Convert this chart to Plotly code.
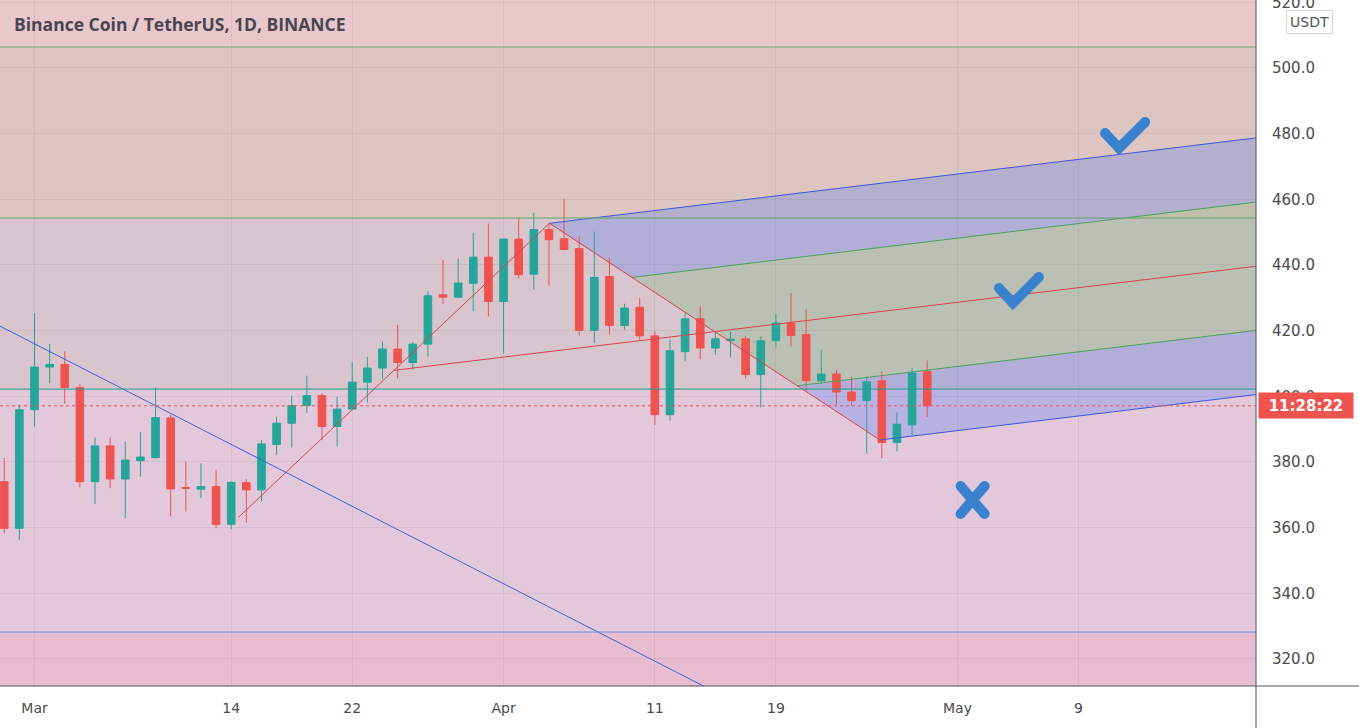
import numpy as np
import pandas as pd
import plotly.graph_objects as go

# ---------------- data ----------------
dates = pd.date_range("2021-02-27", "2021-04-29", freq="D")
opens = [374.0, 359.8, 395.9, 408.9, 409.7, 402.7, 374.0, 384.9, 374.8, 380.4,
         381.3, 393.4, 372.2, 371.7, 372.5, 361.0, 373.7, 371.5, 385.3, 391.8,
         397.2, 400.2, 390.8, 396.1, 404.3, 408.6, 414.4, 410.3, 415.9, 430.9,
         430.2, 434.4, 442.4, 428.9, 447.9, 437.2, 450.8, 448.0, 445.0, 420.1,
         436.5, 421.6, 427.1, 418.4, 394.4, 413.6, 423.6, 414.7, 417.0, 417.5,
         406.6, 417.0, 422.3, 418.8, 404.7, 406.8, 401.3, 398.7, 404.7, 385.9,
         391.3, 407.6]
highs = [381.2, 397.4, 425.4, 416.0, 413.7, 403.7, 387.4, 387.4, 386.2, 389.1,
         402.7, 394.4, 380.1, 379.6, 377.6, 374.0, 374.8, 386.7, 393.8, 400.2,
         406.3, 401.0, 399.9, 410.3, 412.0, 416.7, 421.8, 416.5, 432.0, 441.6,
         441.9, 449.8, 452.6, 448.0, 454.3, 455.9, 452.8, 460.1, 448.7, 450.2,
         442.1, 428.2, 429.9, 419.8, 417.2, 425.4, 427.4, 419.8, 419.8, 418.4,
         418.2, 425.1, 431.5, 426.4, 414.2, 408.1, 405.9, 406.0, 407.6, 395.1,
         408.6, 410.9]
lows = [358.3, 356.2, 390.8, 404.0, 397.7, 372.3, 367.2, 372.0, 362.9, 375.5,
        381.0, 363.4, 364.9, 369.0, 359.8, 359.5, 361.5, 367.9, 382.2, 384.4,
        394.9, 386.7, 384.7, 396.0, 398.1, 405.2, 405.5, 408.1, 412.1, 428.2,
        430.0, 425.9, 424.3, 413.0, 436.0, 432.5, 433.7, 444.5, 418.5, 416.2,
        418.8, 420.3, 417.2, 391.3, 392.6, 410.6, 411.3, 412.7, 411.8, 405.5,
        396.6, 414.9, 415.2, 401.5, 403.8, 397.2, 397.2, 382.5, 381.2, 383.2,
        388.3, 393.7]
closes = [359.8, 395.9, 408.9, 409.7, 402.7, 374.0, 384.9, 374.8, 380.6, 381.5,
          393.5, 371.8, 372.0, 372.5, 361.0, 373.8, 371.5, 385.5, 391.8, 397.2,
          400.2, 390.8, 396.1, 404.3, 408.6, 414.4, 410.3, 415.9, 430.6, 430.2,
          434.5, 442.4, 428.9, 447.9, 437.0, 450.8, 447.7, 444.7, 420.1, 436.2,
          421.6, 426.9, 418.4, 394.4, 413.9, 423.6, 414.7, 417.5, 417.4, 406.6,
          416.9, 422.3, 418.5, 404.8, 406.8, 401.3, 398.7, 404.4, 385.9, 391.5,
          407.1, 397.1]
tick_dates = ["2021-03-01", "2021-03-14", "2021-03-22", "2021-04-01",
              "2021-04-11", "2021-04-19", "2021-05-01", "2021-05-09"]
tick_text = ["Mar", "14", "22", "Apr", "11", "19", "May", "9"]
price_ticks = [320, 340, 360, 380, 400, 420, 440, 460, 480, 500, 520]

# horizontal drawn levels and background zones
levels = [506.4, 454.3, 402.2, 328.2]
level_colors = ["#72ad72", "#5fa665", "#1f9e8c", "#6f8fe6"]
zone_colors = ["#e8c8ca", "#ddc5c2", "#d8c5cd", "#e3c8db", "#e8bdd0"]

# modified Schiff pitchfork anchors (A, B, C)
fork_dates = ["2021-03-14 11:15", "2021-04-04 00:45", "2021-04-25 21:00"]
fork_prices = [363.1, 452.7, 386.7]

# descending trend line anchors
trend_dates = ["2021-03-01", "2021-04-15"]
trend_prices = [416.0, 309.9]

# icons (check marks, cross)
check_dates = ["2021-05-11 16:20", "2021-05-04 16:00"]
check_prices = [475.6, 428.4]
cross_dates = ["2021-05-02 00:00"]
cross_prices = [368.4]

title_text = "Binance Coin / TetherUS, 1D, BINANCE"
countdown = "11:28:22"

# ---------------- helpers ----------------
t0 = pd.Timestamp("2021-03-01")


def to_day(s):
    return (pd.Timestamp(s) - t0) / pd.Timedelta(days=1)


def to_ts(d):
    return t0 + pd.to_timedelta(d, unit="D")


def path_date(d):
    return to_ts(d).strftime("%Y-%m-%d_%H:%M:%S")


x_start = to_ts(-2.28)
x_end = to_ts(80.73)

n = min(len(dates), len(opens), len(highs), len(lows), len(closes))
dates = dates[:n]

fig = go.Figure()
shapes = []

# background zones
bounds = [540] + levels + [290]
for i, col in enumerate(zone_colors):
    shapes.append(dict(type="rect", xref="paper", yref="y", x0=0, x1=1,
                       y0=bounds[i + 1], y1=bounds[i], fillcolor=col,
                       line=dict(width=0), layer="below"))

# pitchfork geometry
A = np.array([to_day(fork_dates[0]), fork_prices[0]])
B = np.array([to_day(fork_dates[1]), fork_prices[1]])
C = np.array([to_day(fork_dates[2]), fork_prices[2]])
S = (A + B) / 2
M = (B + C) / 2
G1 = (B + M) / 2
G2 = (M + C) / 2
slope = (M[1] - S[1]) / (M[0] - S[0])
R = 95.0


def ext(P):
    return np.array([R, P[1] + slope * (R - P[0])])


blue_fill = "rgba(41,98,255,0.22)"
green_fill = "rgba(76,175,80,0.2)"


def poly(pts, color):
    path = "M" + " L".join(f"{path_date(p[0])},{p[1]:.3f}" for p in pts) + " Z"
    shapes.append(dict(type="path", xref="x", yref="y", path=path,
                       fillcolor=color, line=dict(width=0), layer="between"))


poly([B, ext(B), ext(G1), G1], blue_fill)
poly([G1, ext(G1), ext(G2), G2], green_fill)
poly([G2, ext(G2), ext(C), C], blue_fill)


def seg(P, Q, color, width=1):
    fig.add_trace(go.Scatter(x=[to_ts(P[0]), to_ts(Q[0])], y=[P[1], Q[1]],
                             mode="lines", line=dict(color=color, width=width),
                             hoverinfo="skip", showlegend=False))


fork_blue = "#3f55dd"
fork_green = "#4f9f5a"
fork_red = "#d9434f"
seg(B, ext(B), fork_blue)
seg(C, ext(C), fork_blue)
seg(G1, ext(G1), fork_green)
seg(G2, ext(G2), fork_green)
seg(S, ext(S), fork_red)
seg(A, B, fork_red)
seg(B, C, fork_red)

# trend line (extended)
td = [to_day(d) for d in trend_dates]
tslope = (trend_prices[1] - trend_prices[0]) / (td[1] - td[0])
tl0 = np.array([-5.0, trend_prices[0] + tslope * (-5.0 - td[0])])
tl1 = np.array([55.0, trend_prices[0] + tslope * (55.0 - td[0])])
seg(tl0, tl1, "#4361e0")

# candles
fig.add_trace(go.Candlestick(
    x=dates, open=opens[:n], high=highs[:n], low=lows[:n], close=closes[:n],
    increasing=dict(line=dict(color="#26a69a", width=1), fillcolor="#26a69a"),
    decreasing=dict(line=dict(color="#ef5350", width=1), fillcolor="#ef5350"),
    whiskerwidth=0, hoverinfo="skip", showlegend=False))

for lv, col in zip(levels, level_colors):
    shapes.append(dict(type="line", xref="paper", yref="y", x0=0, x1=1,
                       y0=lv, y1=lv, line=dict(color=col, width=1)))
# last price dotted line
shapes.append(dict(type="line", xref="paper", yref="y", x0=0, x1=1,
                   y0=closes[n - 1], y1=closes[n - 1],
                   line=dict(color="#ef5350", width=1, dash="dot")))

icon_col = "#3a82ce"
W = 10


def icon(xd, yp, pts):
    path = "M" + " L".join(f"{px},{py}" for px, py in pts)
    shapes.append(dict(type="path", xref="x", yref="y", xsizemode="pixel",
                       ysizemode="pixel", xanchor=xd, yanchor=yp, path=path,
                       line=dict(color=icon_col, width=W)))
    for px, py in pts:
        shapes.append(dict(type="circle", xref="x", yref="y", xsizemode="pixel",
                           ysizemode="pixel", xanchor=xd, yanchor=yp,
                           x0=px - W / 2, x1=px + W / 2, y0=py - W / 2, y1=py + W / 2,
                           fillcolor=icon_col, line=dict(width=0)))


for xd, yp in zip(check_dates, check_prices):
    icon(xd, yp, [(-14, 15), (0, 0), (26, 26)])
for xd, yp in zip(cross_dates, cross_prices):
    icon(xd, yp, [(-12, 14), (12, -14)])
    icon(xd, yp, [(-12, -14), (12, 14)])

# axis frame lines
shapes.append(dict(type="line", xref="paper", yref="paper", x0=0, x1=1359 / 1256,
                   y0=0, y1=0, line=dict(color="#50535e", width=1)))
shapes.append(dict(type="line", xref="paper", yref="paper", x0=1, x1=1,
                   y0=-42 / 686, y1=1, line=dict(color="#50535e", width=1)))

annotations = [
    dict(xref="paper", yref="paper", x=12 / 1256, y=1 - 24 / 686, xanchor="left",
         yanchor="middle", text=f"<b>{title_text}</b>", showarrow=False,
         font=dict(family="Open Sans", size=17.5, color="#4a4552")),
    dict(xref="paper", yref="y", x=1, xshift=2, y=closes[n - 1], xanchor="left",
         yanchor="middle", text=f"<b>{countdown}</b>", showarrow=False,
         bgcolor="#f05350", width=86, height=17, borderpad=4,
         font=dict(family="DejaVu Sans", size=15, color="#ffffff")),
    dict(xref="paper", yref="paper", x=1309 / 1256, y=1 - 22 / 686, xanchor="center",
         yanchor="middle", text="USDT", showarrow=False, bgcolor="#ffffff",
         bordercolor="#d6d6d6", borderwidth=1, borderpad=3,
         font=dict(family="DejaVu Sans", size=14, color="#555555")),
]

fig.update_layout(
    width=1359, height=728,
    margin=dict(l=0, r=103, t=0, b=42, autoexpand=False),
    paper_bgcolor="#ffffff", plot_bgcolor="#ffffff",
    showlegend=False, shapes=shapes, annotations=annotations,
    boxgap=0.28,
    xaxis=dict(type="date", range=[x_start, x_end], rangeslider=dict(visible=False),
               tickvals=tick_dates, ticktext=tick_text, showgrid=True,
               gridcolor="rgba(0,0,0,0.055)", zeroline=False, showline=False,
               ticks="", ticklabelstandoff=12, automargin=False,
               tickfont=dict(family="DejaVu Sans", size=14, color="#4a4a4a")),
    yaxis=dict(side="right", range=[311.76, 520.71], tickvals=price_ticks,
               ticktext=[f"{v:.1f}" for v in price_ticks], showgrid=True,
               gridcolor="rgba(0,0,0,0.055)", zeroline=False, showline=False,
               ticks="", ticklabelstandoff=15, ticklabeloverflow="allow",
               automargin=False,
               tickfont=dict(family="DejaVu Sans", size=15, color="#4a4a4a")),
)

fig.write_html("out.html", config={"displayModeBar": False},
               post_script="document.body.style.margin='0';")
